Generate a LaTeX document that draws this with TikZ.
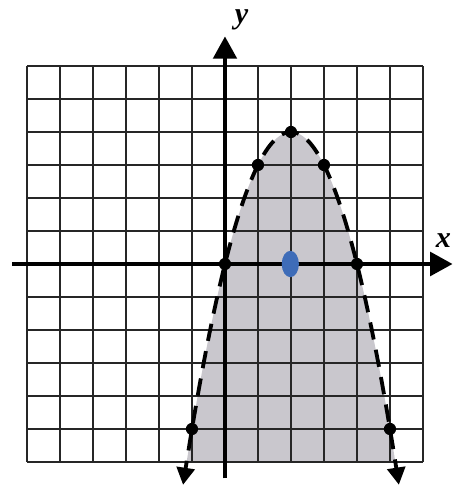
\documentclass[tikz,border=0pt]{standalone}
\usepackage{fontspec}
\newfontfamily\labfont{Liberation Serif}
\usetikzlibrary{arrows.meta}
\definecolor{shadegray}{RGB}{201,199,205}
\definecolor{testblue}{RGB}{62,108,184}
\tikzset{
  gridline/.style={line width=1.8pt, black!85},
  axisline/.style={line width=4.2pt, -{Triangle[length=6.8mm,width=7mm]}},
  curveline/.style={line width=3.3pt, dash pattern=on 15pt off 9pt, {Triangle[length=5.2mm,width=5.4mm]}-{Triangle[length=5.2mm,width=5.4mm]}},
  ptdot/.style={circle, fill=black, inner sep=0pt, minimum size=3.7mm},
  axlabel/.style={font=\labfont\fontsize{26}{28}\selectfont\bfseries\itshape, inner sep=0pt}
}
\begin{document}
\begin{tikzpicture}[x=1cm,y=1cm]
\useasboundingbox (-6.818,-6.758) rectangle (6.939,8.0);
% shaded region
\fill[shadegray] plot[domain=-1.1623:5.1623, samples=80] (\x,{-(\x-2)*(\x-2)+4}) -- cycle;
% grid
\draw[gridline] (-6,-6) grid (6,6);
% axes
\coordinate (xl) at (-6.45,0);
\coordinate (xr) at (6.9,0);
\coordinate (yb) at (0,-6.5);
\coordinate (yt) at (0,6.9);
\draw[axisline] (xl) -- (xr);
\draw[axisline] (yb) -- (yt);
\node[axlabel] (ylab) at (0.5,7.4) {y};
\node[axlabel] (xlab) at (6.62,0.72) {x};
% dashed parabola
\draw[curveline] plot[domain=-1.27:5.27, samples=100, smooth] (\x,{-(\x-2)*(\x-2)+4});
% points
\foreach \px/\py/\nm in {0/0/p0, 1/3/p1, 2/4/p2, 3/3/p3, 4/0/p4, -1/-5/p5, 5/-5/p6}
  \node[ptdot] (\nm) at (\px,\py) {};
% test point
\fill[testblue] (1.98,0) ellipse [x radius=0.26, y radius=0.4];
\end{tikzpicture}
\end{document}
